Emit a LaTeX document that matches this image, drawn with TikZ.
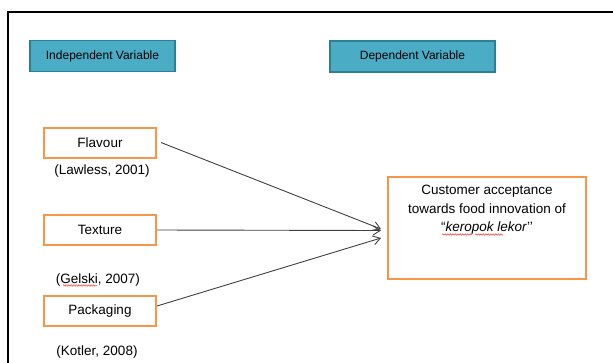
\documentclass[tikz,border=0pt]{standalone}
\usepackage{fontspec}
\setmainfont{Liberation Sans}
\usetikzlibrary{arrows.meta,decorations.pathmorphing}
\definecolor{teal}{HTML}{4BACC6}
\definecolor{tealedge}{HTML}{2E7F95}
\definecolor{orangeedge}{HTML}{F79646}
\tikzset{
  header/.style={draw=tealedge, fill=teal, line width=1.2pt, minimum width=145pt,
    minimum height=31pt, inner sep=0pt, font=\fontsize{12}{14}\selectfont},
  factor/.style={draw=orangeedge, line width=2pt, minimum width=112pt,
    minimum height=30pt, inner sep=0pt, font=\fontsize{13.5}{15}\selectfont},
  cite/.style={inner sep=0pt, font=\fontsize{13.5}{15}\selectfont},
  link/.style={draw=black!75, line width=0.9pt, -{Straight Barb[length=7pt,width=9pt]}},
  squiggle/.style={draw=red!80, line width=0.5pt,
    decorate, decoration={snake, amplitude=0.7pt, segment length=2.5pt}}
}
\begin{document}
\begin{tikzpicture}[x=1pt, y=-1pt]
  \useasboundingbox (0,0) rectangle (613,362);
  % frame
  \draw[line width=2pt] (8,370) -- (8,12) -- (620,12);

  % headers
  \node[header] (indep) at (102.5,56) {Independent Variable};
  \node[header, minimum width=165pt] (dep) at (412.5,56.5) {Dependent Variable};

  % factors
  \node[factor] (flav) at (100,142.5) {Flavour};
  \node[factor] (text) at (100,230) {Texture};
  \node[factor] (pack) at (100,311) {Packaging};

  % references
  \node[cite] (c1) at (102,171) {(Lawless, 2001)};
  \node[cite] (c2) at (98,280) {(Gelski, 2007)};
  \node[cite] (c3) at (97,352) {(Kotler, 2008)};
  \draw[squiggle] (63,285.5) -- ++(34,0);

  % outcome
  \node[draw=orangeedge, line width=2pt, minimum width=198pt, minimum height=102pt,
        inner sep=0pt] (out) at (487,228) {};
  \node[align=center, inner sep=0pt, font=\fontsize{13.5}{18.5}\selectfont,
        anchor=north] (outtxt) at (487,185)
    {Customer acceptance\\towards food innovation of\\“\textit{keropok lekor}’’};
  \draw[squiggle] (442,234.5) -- ++(30,0);
  \draw[squiggle] (475,234.5) -- ++(28,0);

  % arrow ends
  \coordinate (e1) at (381,229);
  \coordinate (e2) at (381,230.5);
  \coordinate (e3) at (381,238);

  \draw[link] ([xshift=4pt]flav.east) -- (e1);
  \draw[link] (text.east) -- (e2);
  \draw[link] ([yshift=5pt]pack.east) -- (e3);
\end{tikzpicture}
\end{document}
